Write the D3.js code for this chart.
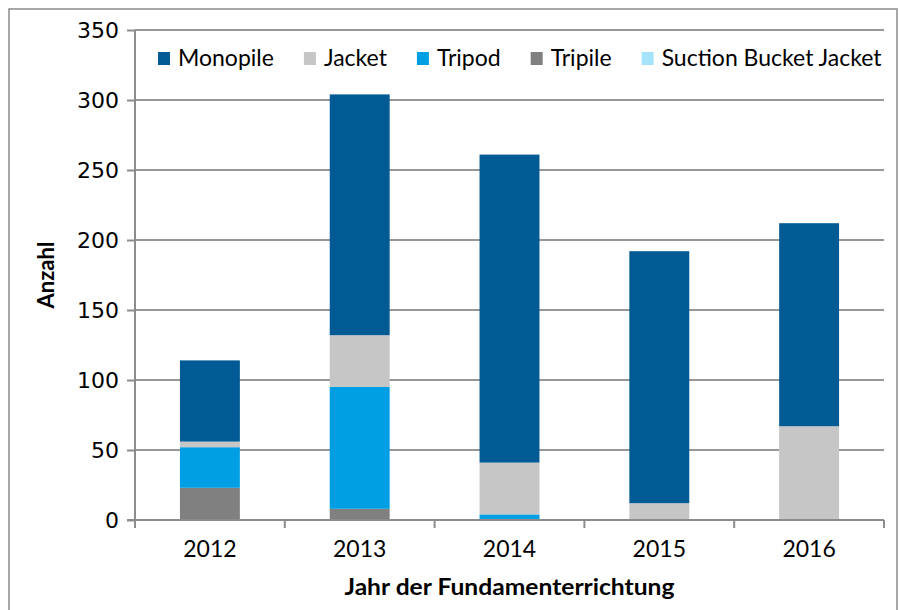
<!DOCTYPE html>
<html>
<head>
<meta charset="utf-8">
<script src="https://cdn.jsdelivr.net/npm/d3@7"></script>
<style>
  html, body { margin: 0; padding: 0; background: #fff; }
  svg { display: block; }
  text { font-family: Lato, "Open Sans", sans-serif; fill: #000; }
</style>
</head>
<body>
<svg id="chart" width="900" height="610"></svg>
<script>
const years = ["2012", "2013", "2014", "2015", "2016"];
const seriesNames = ["Tripile", "Tripod", "Jacket", "Monopile", "Suction Bucket Jacket"];
const legendOrder = ["Monopile", "Jacket", "Tripod", "Tripile", "Suction Bucket Jacket"];
const tripile  = [23, 8, 0, 0, 0];
const tripod   = [29, 87, 4, 0, 0];
const jacket   = [4, 37, 37, 12, 67];
const monopile = [58, 172, 220, 180, 145];
const suction  = [0, 0, 0, 0, 0];
const yTicks = [0, 50, 100, 150, 200, 250, 300, 350];
const colors = {
  "Monopile": "#005a94",
  "Jacket": "#c6c6c6",
  "Tripod": "#009fe3",
  "Tripile": "#808080",
  "Suction Bucket Jacket": "#a5e3fb"
};

const valuesBySeries = {
  "Tripile": tripile, "Tripod": tripod, "Jacket": jacket,
  "Monopile": monopile, "Suction Bucket Jacket": suction
};
const table = years.map((y, i) => {
  const row = { year: y };
  seriesNames.forEach(s => row[s] = valuesBySeries[s][i]);
  return row;
});

const svg = d3.select("#chart");
const plot = { left: 135, right: 884, top: 30, bottom: 520 };

// outer frame
svg.append("rect")
  .attr("x", 9).attr("y", 9).attr("width", 888).attr("height", 620)
  .attr("fill", "none").attr("stroke", "#8c8c8c").attr("stroke-width", 1.5);

const x = d3.scaleBand().domain(years).range([plot.left, plot.right])
  .paddingInner(0.6).paddingOuter(0.3);
const y = d3.scaleLinear().domain([0, 350]).range([plot.bottom, plot.top]);

// gridlines
svg.append("g")
  .selectAll("line").data(yTicks.filter(t => t > 0)).join("line")
  .attr("x1", plot.left).attr("x2", plot.right)
  .attr("y1", d => y(d)).attr("y2", d => y(d))
  .attr("stroke", "#979797").attr("stroke-width", 2);

// stacked bars
const stack = d3.stack().keys(seriesNames);
const layers = stack(table);
svg.append("g").selectAll("g").data(layers).join("g")
  .attr("fill", d => colors[d.key])
  .selectAll("rect").data(d => d.filter(p => p[1] - p[0] > 0)).join("rect")
  .attr("x", d => x(d.data.year))
  .attr("width", x.bandwidth())
  .attr("y", d => y(d[1]))
  .attr("height", d => y(d[0]) - y(d[1]));

// y axis
const yAxis = d3.axisLeft(y).tickValues(yTicks).tickSize(8).tickPadding(8);
const gy = svg.append("g").attr("transform", `translate(${plot.left},0)`).call(yAxis);
gy.select(".domain").attr("stroke", "#8c8c8c").attr("stroke-width", 2)
  .attr("d", `M0,${plot.top}V${plot.bottom + 8}`);
gy.selectAll(".tick line").attr("stroke", "#8c8c8c").attr("stroke-width", 2);
gy.selectAll(".tick text").style("font-family", "'DejaVu Sans', sans-serif")
  .style("font-size", "22px").attr("fill", "#000");

// x axis
const gx = svg.append("g").attr("transform", `translate(0,${plot.bottom})`)
  .call(d3.axisBottom(x).tickSize(0).tickPadding(21));
gx.select(".domain").attr("stroke", "#8c8c8c").attr("stroke-width", 2)
  .attr("d", `M${plot.left - 8},0H${plot.right}`);
gx.selectAll(".tick text").style("font-size", "23px").attr("fill", "#000");
// category separator ticks
const seps = d3.range(1, years.length + 1).map(i => plot.left + i * (plot.right - plot.left) / years.length);
svg.append("g").selectAll("line").data(seps).join("line")
  .attr("x1", d => d).attr("x2", d => d)
  .attr("y1", plot.bottom).attr("y2", plot.bottom + 8)
  .attr("stroke", "#8c8c8c").attr("stroke-width", 2);

// axis titles
svg.append("text")
  .attr("transform", `translate(54,${(plot.top + plot.bottom) / 2}) rotate(-90)`)
  .attr("text-anchor", "middle")
  .style("font-size", "22px").style("font-weight", "bold")
  .text("Anzahl");
svg.append("text")
  .attr("x", (plot.left + plot.right) / 2).attr("y", 595)
  .attr("text-anchor", "middle")
  .attr("textLength", 330).attr("lengthAdjust", "spacingAndGlyphs")
  .style("font-size", "23px").style("font-weight", "bold")
  .text("Jahr der Fundamenterrichtung");

// legend
const lg = svg.append("g");
let lx = 158;
legendOrder.forEach(name => {
  const g = lg.append("g");
  g.append("rect").attr("x", lx).attr("y", 52).attr("width", 12).attr("height", 13)
    .attr("fill", colors[name]);
  const t = g.append("text").attr("x", lx + 20).attr("y", 66)
    .style("font-size", "23px").text(name);
  lx += 20 + t.node().getComputedTextLength() + 30;
});
</script>
</body>
</html>
